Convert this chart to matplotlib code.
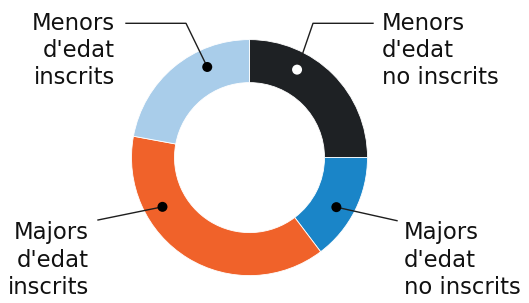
import numpy as np
import matplotlib
matplotlib.use("Agg")
import matplotlib.pyplot as plt
from matplotlib.patches import Circle

# Data (percent shares, clockwise from top)
categories = ["Menors\nd'edat\nno inscrits", "Majors\nd'edat\nno inscrits",
              "Majors\nd'edat\ninscrits", "Menors\nd'edat\ninscrits"]
values = [25.0, 14.7, 38.2, 22.1]
colors = ["#1e2124", "#1a85c8", "#f0622a", "#a9cdea"]
dot_colors = ["white", "black", "black", "black"]

W, H = 529, 303
fig = plt.figure(figsize=(W / 100, H / 100), dpi=100)
ax = fig.add_axes([0, 0, 1, 1])

cx, cy = 249.5, H - 157.6
R, width = 118, 43
ax.pie(values, colors=colors, startangle=90, counterclock=False,
       center=(cx, cy), radius=R, frame=True,
       wedgeprops=dict(width=width, edgecolor="white", linewidth=0.6))
ax.set_xlim(0, W)
ax.set_ylim(0, H)
ax.set_aspect("equal")
ax.axis("off")

# annotation layout: dot angle, path points (pixel coords, y down), text pos, alignment
dot_angles = [61.6, -29.7, -150.5, 115.0]
rdot = 100
paths = [
    [(313, 23.3), (373, 23.3)],
    [(397, 220.7)],
    [(98, 220)],
    [(186, 23.3), (126, 23.3)],
]
text_pos = [(382, 11.5), (404, 221.5), (89, 221.5), (115, 11.5)]
aligns = ["left", "left", "right", "right"]

for i, cat in enumerate(categories):
    a = np.deg2rad(dot_angles[i])
    dx, dy = cx + rdot * np.cos(a), cy + rdot * np.sin(a)
    xs = [dx] + [p[0] for p in paths[i]]
    ys = [dy] + [H - p[1] for p in paths[i]]
    ax.plot(xs, ys, color="#1e1e1e", lw=1.0, zorder=3)
    ax.add_patch(Circle((dx, dy), 5, facecolor=dot_colors[i], edgecolor="none", zorder=4))
    tx, ty = text_pos[i]
    ax.text(tx, H - ty, cat, ha=aligns[i], va="top", multialignment=aligns[i],
            fontsize=16.4, family="DejaVu Sans", color="#111111", linespacing=1.24)

fig.savefig("out.png", dpi=100)
